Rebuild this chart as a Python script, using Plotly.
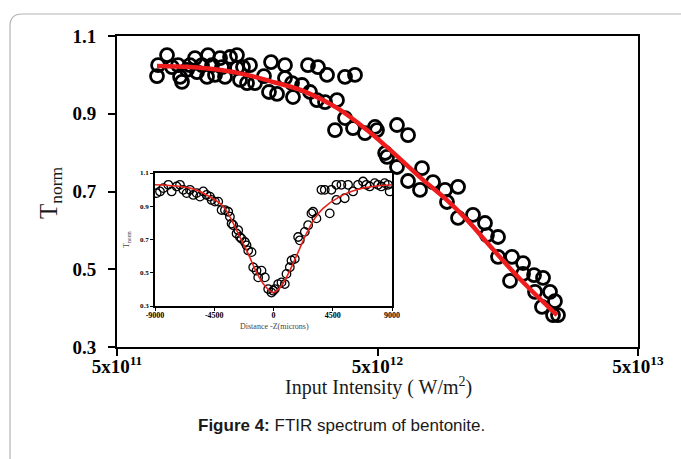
import plotly.graph_objects as go
import math

# ---------------- main panel data (intensity in W/m^2, normalized transmittance)
main_I_1e12 = [0.712, 0.719, 0.778, 0.813, 0.858, 0.873, 0.888, 0.928, 0.953, 0.996,
               1.014, 1.060, 1.108, 1.118, 1.158, 1.189, 1.243, 1.265, 1.299, 1.358,
               1.444, 1.444, 1.523, 1.483, 1.620, 1.578, 1.693, 1.951, 1.833, 1.916,
               2.057, 2.207, 2.705, 2.955, 3.200, 3.752, 4.098, 2.207, 2.349, 2.566,
               2.369, 2.753, 2.929, 3.144, 3.495, 3.752, 3.434, 4.027, 4.477, 4.890,
               4.978, 5.94, 6.55, 5.35, 5.44, 5.94, 7.41, 8.17, 6.55, 7.28,
               9.08, 10.19, 9.24, 10.19, 11.63, 12.93, 13.16, 14.51, 14.51, 16.42,
               18.10, 18.10, 19.95, 21.60, 16.13, 20.12, 22.97, 24.00, 21.40, 23.59,
               24.65]
main_T = [0.997, 1.025, 1.051, 1.020, 1.025, 0.995, 0.982, 1.013, 1.025, 1.043,
          1.007, 1.025, 0.995, 1.051, 1.025, 1.000, 1.043, 1.020, 0.995, 1.046,
          1.051, 1.018, 1.020, 0.987, 1.025, 0.979, 0.979, 1.033, 0.997, 0.956,
          0.951, 1.025, 1.025, 1.020, 1.000, 0.995, 1.000, 0.992, 0.979, 0.974,
          0.943, 0.956, 0.935, 0.930, 0.935, 0.889, 0.858, 0.863, 0.850, 0.866,
          0.858, 0.871, 0.845, 0.799, 0.789, 0.763, 0.760, 0.724, 0.727, 0.704,
          0.704, 0.712, 0.673, 0.632, 0.640, 0.619, 0.588, 0.583, 0.532, 0.532,
          0.516, 0.488, 0.485, 0.478, 0.470, 0.442, 0.442, 0.418, 0.403, 0.382,
          0.382]

fit_I_1e12 = [0.712, 0.953, 1.322, 1.693, 1.934, 2.588, 3.495, 4.557, 5.44, 6.67,
              7.48, 9.24, 11.03, 13.52, 17.62, 24.44]
fit_T = [1.023, 1.020, 1.010, 0.995, 0.984, 0.959, 0.915, 0.858, 0.814, 0.760,
         0.730, 0.678, 0.627, 0.560, 0.475, 0.382]

main_xticks = [5e11, 5e12, 5e13]
main_xticktext = ["5x10<sup>11</sup>", "5x10<sup>12</sup>", "5x10<sup>13</sup>"]
main_yticks = [0.3, 0.5, 0.7, 0.9, 1.1]

# ---------------- inset data (Z in microns)
inset_Z = [-8873, -8620, -8367, -7988, -7735, -7356, -7103, -6850, -6597, -6345,
           -6092, -5839, -5586, -5334, -5081, -4828, -4701, -4449, -4196, -3943,
           -3690, -3438, -3311, -3185, -3059, -2806, -2679, -2553, -2427, -2174,
           -2047, -1921, -1668, -1542, -1289, -1163, -910, -657, -404, -152,
           -25, 101, 354, 607, 859, 986, 1239, 1365, 1618, 1871,
           1997, 2376, 2629, 2882, 3008, 3261, 3640, 3893, 4272, 4398,
           4777, 4777, 5157, 5410, 5662, 6042, 6421, 6800, 7053, 7306,
           7685, 7938, 8190, 8443, 8696, 8822]
inset_T = [0.979, 0.989, 1.009, 1.029, 0.989, 1.019, 1.029, 0.999, 0.979, 0.999,
           0.968, 0.979, 0.958, 0.989, 0.968, 0.958, 0.938, 0.928, 0.928, 0.877,
           0.877, 0.867, 0.837, 0.796, 0.786, 0.736, 0.756, 0.715, 0.705, 0.685,
           0.665, 0.634, 0.624, 0.533, 0.513, 0.472, 0.513, 0.472, 0.402, 0.381,
           0.392, 0.402, 0.432, 0.442, 0.432, 0.493, 0.533, 0.574, 0.584, 0.715,
           0.695, 0.746, 0.786, 0.857, 0.867, 0.827, 0.999, 0.999, 0.857, 0.999,
           0.938, 1.029, 1.029, 0.948, 1.029, 0.989, 1.029, 1.049, 1.029, 1.019,
           1.039, 1.029, 1.019, 1.039, 1.029, 0.989]

inset_fit_Z = [-9000, -6345, -5081, -3817, -2553, -1921, -1289, -657, -25, 607,
               1239, 1871, 2503, 3135, 3767, 5031, 6295, 7559, 9000]
inset_fit_T = [1.029, 1.009, 0.968, 0.898, 0.715, 0.614, 0.503, 0.422, 0.381, 0.422,
               0.513, 0.624, 0.736, 0.827, 0.887, 0.958, 0.999, 1.019, 1.029]

inset_xticks = [-9000, -4500, 0, 4500, 9000]
inset_xticktext = ["-9000", "-4500", "0", "4500", "9000"]
inset_yticks = [0.3, 0.5, 0.7, 0.9, 1.1]

# ---------------- figure
W, H = 681, 459
L, R, T, B = 117, 43, 36, 112
pw, ph = W - L - R, H - T - B

def px_x(px):
    return (px - L) / pw

def px_y(py):
    return (H - B - py) / ph

SERIF = "Liberation Serif"

fig = go.Figure()

fig.add_trace(go.Scatter(
    x=[v * 1e12 for v in main_I_1e12], y=main_T, mode="markers",
    marker=dict(symbol="circle-open", size=13, color="black", line=dict(width=2.8, color="black")),
    xaxis="x", yaxis="y", showlegend=False, cliponaxis=False))
fig.add_trace(go.Scatter(
    x=[v * 1e12 for v in fit_I_1e12], y=fit_T, mode="lines",
    line=dict(color="#ee1c1c", width=4.5, shape="spline"),
    xaxis="x", yaxis="y", showlegend=False))

fig.add_trace(go.Scatter(
    x=inset_Z, y=inset_T, mode="markers",
    marker=dict(symbol="circle-open", size=8.5, color="black", line=dict(width=1.3, color="black")),
    xaxis="x2", yaxis="y2", showlegend=False))
fig.add_trace(go.Scatter(
    x=inset_fit_Z, y=inset_fit_T, mode="lines",
    line=dict(color="#e8231c", width=1.6, shape="spline"),
    xaxis="x2", yaxis="y2", showlegend=False))

axis_common = dict(showgrid=False, zeroline=False, showline=True, linecolor="black",
                   mirror=True, ticks="outside", tickcolor="black", automargin=False)

fig.update_layout(
    width=W, height=H,
    margin=dict(l=L, r=R, t=T, b=B),
    paper_bgcolor="white", plot_bgcolor="white",
    xaxis=dict(type="log", range=[math.log10(5e11), math.log10(5e13)],
               tickvals=main_xticks, ticktext=main_xticktext,
               tickfont=dict(family=SERIF, size=19, color="black", weight="bold"),
               ticklabelstandoff=-6,
               linewidth=2, ticklen=7, tickwidth=2, domain=[0, 1], anchor="y",
               **axis_common),
    yaxis=dict(range=[0.3, 1.1], tickvals=main_yticks,
               tickformat=".1f",
               tickfont=dict(family=SERIF, size=19, color="black", weight="bold"),
               ticklabelstandoff=8,
               linewidth=2, ticklen=7, tickwidth=2, domain=[0, 1], anchor="x",
               **axis_common),
    xaxis2=dict(range=[-9000, 9000], tickvals=inset_xticks, ticktext=inset_xticktext,
                tickfont=dict(family=SERIF, size=8, color="black", weight="bold"),
                ticklabelstandoff=-2,
                linewidth=1.5, ticklen=3, tickwidth=1, anchor="y2",
                domain=[px_x(155), px_x(392)],
                **axis_common),
    yaxis2=dict(range=[0.3, 1.1], tickvals=inset_yticks, tickformat=".1f",
                tickfont=dict(family=SERIF, size=7, color="black", weight="bold"),
                linewidth=1.5, ticklen=3, tickwidth=1, anchor="x2",
                domain=[px_y(306), px_y(173)],
                **axis_common),
)

# white background for the inset panel
fig.add_shape(type="rect", xref="paper", yref="paper",
              x0=px_x(155), x1=px_x(392), y0=px_y(306), y1=px_y(173),
              fillcolor="white", line=dict(width=0), layer="below")

# rounded outer frame
x0, y0 = px_x(10), px_y(14)
x1, y1 = px_x(700), px_y(480)
rx, ry = 12 / pw, 12 / ph
path = (f"M {x0},{y1} L {x0},{y0 - ry} Q {x0},{y0} {x0 + rx},{y0} L {x1},{y0}")
fig.add_shape(type="path", xref="paper", yref="paper", path=path,
              line=dict(color="#b4b4b4", width=1.2))

annotations = [
    dict(x=px_x(378), y=px_y(386), text="Input Intensity ( W/m<sup>2</sup>)",
         font=dict(family=SERIF, size=20, color="#1a1a1a")),
    dict(x=px_x(50), y=px_y(193), text="T<sub>norm</sub>", textangle=-90,
         font=dict(family=SERIF, size=25, color="#1a1a1a")),
    dict(x=px_x(274), y=px_y(326), text="Distance -Z(microns)",
         font=dict(family=SERIF, size=8, color="#444444")),
    dict(x=px_x(127), y=px_y(240), text="T<sub>norm</sub>", textangle=-90,
         font=dict(family=SERIF, size=8, color="#444444")),
    dict(x=px_x(341), y=px_y(426),
         text="<b>Figure 4:</b> FTIR spectrum of bentonite.",
         font=dict(family="Liberation Sans", size=17, color="#1a1a1a")),
]
for a in annotations:
    a.update(xref="paper", yref="paper", showarrow=False, xanchor="center", yanchor="middle")
    fig.add_annotation(**a)

fig.write_html("out.html", config={"displayModeBar": False},
               post_script="document.body.style.margin='0px';")
